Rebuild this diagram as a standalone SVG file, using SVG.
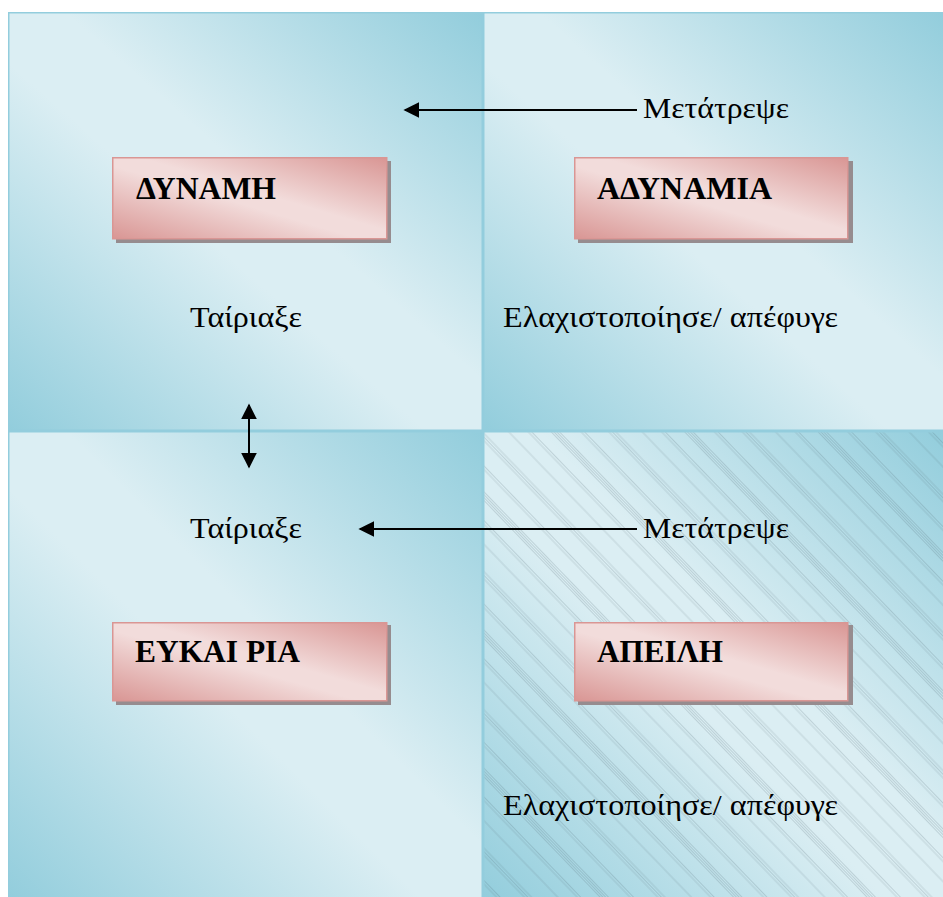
<svg xmlns="http://www.w3.org/2000/svg" width="943" height="897" viewBox="0 0 943 897">
<defs>
<linearGradient id="gBlue" x1="0" y1="1" x2="1" y2="0">
<stop offset="0" stop-color="#92cddc"/>
<stop offset="0.44" stop-color="#dbeef3"/>
<stop offset="0.56" stop-color="#dbeef3"/>
<stop offset="1" stop-color="#92cddc"/>
</linearGradient>
<linearGradient id="gPink" x1="0" y1="1" x2="1" y2="0">
<stop offset="0" stop-color="#d99694"/>
<stop offset="0.45" stop-color="#f2dcdb"/>
<stop offset="0.55" stop-color="#f2dcdb"/>
<stop offset="1" stop-color="#d99694"/>
</linearGradient>
<pattern id="hatch" width="96" height="10" patternUnits="userSpaceOnUse" patternTransform="rotate(-44)">
<g stroke="#4a5f68" stroke-width="0.5" stroke-opacity="0.4">
<line x1="0.5" y1="0" x2="0.5" y2="10"/>
<line x1="2.5" y1="0" x2="2.5" y2="10"/>
<line x1="4.5" y1="0" x2="4.5" y2="10"/>
<line x1="6.5" y1="0" x2="6.5" y2="10"/>
<line x1="22" y1="0" x2="22" y2="10"/>
<line x1="24.5" y1="0" x2="24.5" y2="10"/>
<line x1="42" y1="0" x2="42" y2="10"/>
<line x1="44.5" y1="0" x2="44.5" y2="10"/>
<line x1="47" y1="0" x2="47" y2="10"/>
<line x1="66" y1="0" x2="66" y2="10"/>
<line x1="80" y1="0" x2="80" y2="10"/>
<line x1="82.5" y1="0" x2="82.5" y2="10"/>
</g>
</pattern>
<marker id="ah" viewBox="0 0 10 10" refX="9" refY="5" markerWidth="8" markerHeight="8" markerUnits="strokeWidth" orient="auto-start-reverse">
<path d="M0,0 L10,5 L0,10 Z" fill="#000"/>
</marker>
</defs>
<style>
.quad{fill:url(#gBlue);stroke:#93cddd;stroke-width:1.5}
.box{fill:url(#gPink);stroke:#d99694;stroke-width:1.5}
.shadow{fill:#968c8f}
.title{font-family:"Liberation Serif","Times New Roman",serif;font-weight:bold;font-size:31px;fill:#000}
.lbl{font-family:"Liberation Serif","Times New Roman",serif;font-size:30px;fill:#000}
.conn{stroke:#000;stroke-width:2;fill:none}
</style>
<rect width="943" height="897" fill="#ffffff"/>
<g id="quadrants">
<rect id="q-tl" class="quad" x="8.75" y="12.75" width="473.5" height="417.5"/>
<rect id="q-tr" class="quad" x="483.75" y="12.75" width="462" height="417.5"/>
<rect id="q-bl" class="quad" x="8.75" y="431.75" width="473.5" height="470"/>
<g id="q-br">
<rect class="quad" x="483.75" y="431.75" width="462" height="470"/>
<rect x="484.5" y="432.5" width="460" height="468" fill="url(#hatch)"/>
</g>
</g>
<g id="node-strength">
<rect class="shadow" x="116" y="161" width="275" height="82"/>
<rect class="box" x="112.75" y="157.75" width="274" height="81"/>
<text class="title" x="136" y="199" textLength="140" lengthAdjust="spacingAndGlyphs">ΔΥΝΑΜΗ</text>
</g>
<g id="node-weakness">
<rect class="shadow" x="578" y="161" width="275" height="82"/>
<rect class="box" x="574.75" y="157.75" width="273" height="81"/>
<text class="title" x="597" y="199" textLength="175" lengthAdjust="spacingAndGlyphs">ΑΔΥΝΑΜΙΑ</text>
</g>
<g id="node-opportunity">
<rect class="shadow" x="116" y="625" width="275" height="80"/>
<rect class="box" x="112.75" y="622.75" width="274" height="78"/>
<text class="title" x="135" y="662" textLength="165" lengthAdjust="spacingAndGlyphs">ΕΥΚΑΙ ΡΙΑ</text>
</g>
<g id="node-threat">
<rect class="shadow" x="578" y="625" width="275" height="80"/>
<rect class="box" x="574.75" y="622.75" width="273" height="78"/>
<text class="title" x="597" y="662" textLength="126" lengthAdjust="spacingAndGlyphs">ΑΠΕΙΛΗ</text>
</g>
<g id="labels">
<text class="lbl" x="643" y="118" textLength="146" lengthAdjust="spacingAndGlyphs">Μετάτρεψε</text>
<text class="lbl" x="190" y="327" textLength="112" lengthAdjust="spacingAndGlyphs">Ταίριαξε</text>
<text class="lbl" x="503" y="327" textLength="335" lengthAdjust="spacingAndGlyphs">Ελαχιστοποίησε/ απέφυγε</text>
<text class="lbl" x="190" y="538" textLength="112" lengthAdjust="spacingAndGlyphs">Ταίριαξε</text>
<text class="lbl" x="643" y="538" textLength="146" lengthAdjust="spacingAndGlyphs">Μετάτρεψε</text>
<text class="lbl" x="503" y="815" textLength="335" lengthAdjust="spacingAndGlyphs">Ελαχιστοποίησε/ απέφυγε</text>
</g>
<g id="connectors">
<line class="conn" x1="637" y1="110" x2="405" y2="110" marker-end="url(#ah)"/>
<line class="conn" x1="637" y1="529" x2="360" y2="529" marker-end="url(#ah)"/>
<line class="conn" x1="249" y1="405" x2="249" y2="467" marker-start="url(#ah)" marker-end="url(#ah)"/>
</g>
</svg>
